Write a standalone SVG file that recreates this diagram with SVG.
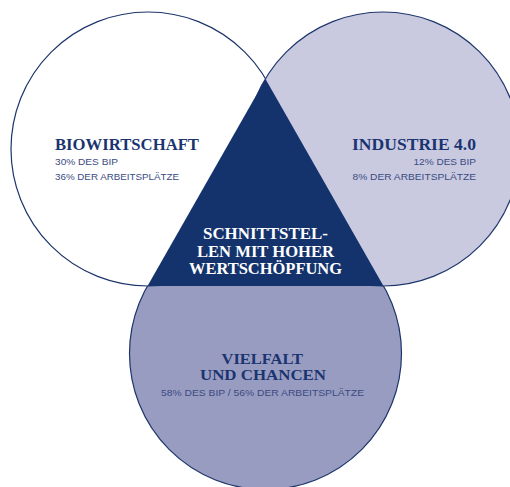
<svg xmlns="http://www.w3.org/2000/svg" width="510" height="487" viewBox="0 0 510 487">
  <style>
    .circ { stroke: #1d356b; stroke-width: 1.2; }
    .title { font-family: "Liberation Serif", "DejaVu Serif", serif; font-weight: bold; font-size: 16.5px; fill: #1a3470; }
    .btitle { font-family: "Liberation Serif", "DejaVu Serif", serif; font-weight: bold; font-size: 14.5px; fill: #1a3470; }
    .ctitle { font-family: "Liberation Serif", "DejaVu Serif", serif; font-weight: bold; font-size: 16px; fill: #ffffff; }
    .sub { font-family: "Liberation Sans", Arial, sans-serif; font-size: 9px; fill: #3a4a82; }
  </style>
  <rect x="0" y="0" width="510" height="487" fill="#ffffff"/>
  <g id="vielfalt">
    <circle class="circ" cx="265.5" cy="353.5" r="136" fill="#989cc0"/>
  </g>
  <g id="biowirtschaft">
    <circle class="circ" cx="148" cy="149" r="137" fill="#ffffff"/>
  </g>
  <g id="industrie">
    <circle class="circ" cx="383" cy="149" r="137" fill="#c9cae0"/>
  </g>
  <g id="schnittstellen">
    <polygon points="265.5,79 147.5,286 383.5,286" fill="#14336c"/>
  </g>
  <g id="labels-bio">
    <text class="title" x="55" y="150" textLength="144" lengthAdjust="spacingAndGlyphs">BIOWIRTSCHAFT</text>
    <text class="sub" x="55" y="164.5" textLength="63" lengthAdjust="spacingAndGlyphs">30% DES BIP</text>
    <text class="sub" x="55" y="180" textLength="124" lengthAdjust="spacingAndGlyphs">36% DER ARBEITSPLÄTZE</text>
  </g>
  <g id="labels-industrie">
    <text class="title" x="352" y="150" textLength="124" lengthAdjust="spacingAndGlyphs">INDUSTRIE 4.0</text>
    <text class="sub" x="413.5" y="164.5" textLength="62.5" lengthAdjust="spacingAndGlyphs">12% DES BIP</text>
    <text class="sub" x="352.5" y="180" textLength="123.5" lengthAdjust="spacingAndGlyphs">8% DER ARBEITSPLÄTZE</text>
  </g>
  <g id="labels-center">
    <text class="ctitle" x="203" y="239" textLength="125" lengthAdjust="spacingAndGlyphs">SCHNITTSTEL-</text>
    <text class="ctitle" x="197" y="256.5" textLength="137" lengthAdjust="spacingAndGlyphs">LEN MIT HOHER</text>
    <text class="ctitle" x="189" y="274" textLength="153" lengthAdjust="spacingAndGlyphs">WERTSCHÖPFUNG</text>
  </g>
  <g id="labels-vielfalt">
    <text class="btitle" x="221.5" y="363.5" textLength="81.5" lengthAdjust="spacingAndGlyphs">VIELFALT</text>
    <text class="btitle" x="200" y="379.5" textLength="126" lengthAdjust="spacingAndGlyphs">UND CHANCEN</text>
    <text class="sub" x="161" y="395.5" textLength="203" lengthAdjust="spacingAndGlyphs">58% DES BIP / 56% DER ARBEITSPLÄTZE</text>
  </g>
</svg>
